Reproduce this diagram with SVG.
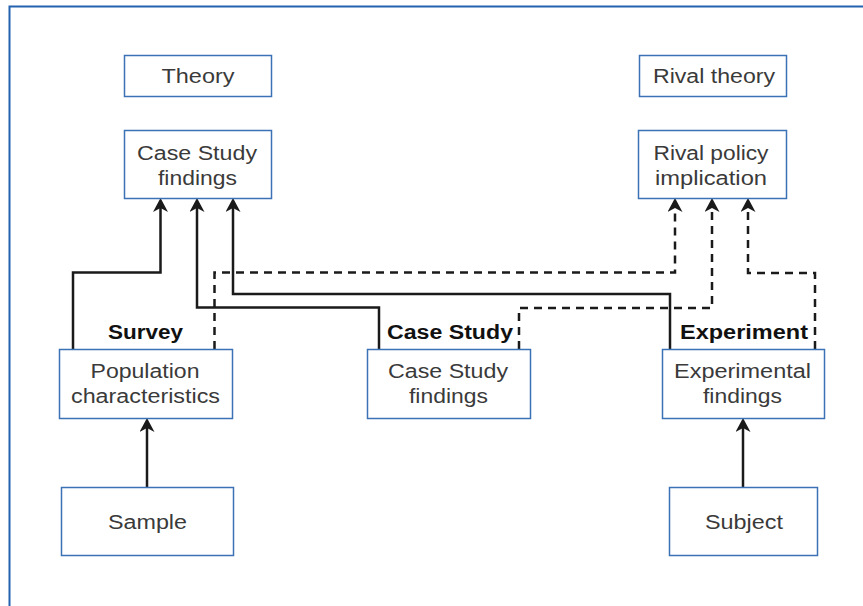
<svg xmlns="http://www.w3.org/2000/svg" width="863" height="606" viewBox="0 0 863 606">
<style>
.box{fill:#fff;stroke:#3a72b5;stroke-width:1.5}
.t{font-family:"Liberation Sans",Arial,sans-serif;font-size:20px;fill:#3a3a3a;text-anchor:middle}
.lb{font-family:"Liberation Sans",Arial,sans-serif;font-size:19.5px;font-weight:bold;fill:#111;text-anchor:middle}
.c{fill:none;stroke:#1a1a1a;stroke-width:2.5}
.d{stroke-dasharray:8 6}
</style>
<defs>
<marker id="ah" markerUnits="userSpaceOnUse" markerWidth="16" markerHeight="16" refX="4" refY="7.5" orient="auto" viewBox="0 0 16 16">
<path d="M14 7.5 L0 0 L4 7.5 L0 15 Z" fill="#1a1a1a"/>
</marker>
</defs>
<rect width="863" height="606" fill="#fff"/>
<path d="M9.5 606 V6.5 H863" fill="none" stroke="#2462b0" stroke-width="2"/>
<g id="connectors">
<path class="c" d="M147 487 V428" marker-end="url(#ah)"/>
<path class="c" d="M743 487 V428" marker-end="url(#ah)"/>
<path class="c" d="M73 349 V272.5 H160.5 V208" marker-end="url(#ah)"/>
<path class="c" d="M379 349 V307.5 H197 V208" marker-end="url(#ah)"/>
<path class="c" d="M670 349 V294 H233 V208" marker-end="url(#ah)"/>
<path class="c d" d="M214.5 349 V272.5 H675 V208" marker-end="url(#ah)"/>
<path class="c d" d="M519 349 V308 H712 V208" marker-end="url(#ah)"/>
<path class="c d" d="M815 349 V273 H748 V208" marker-end="url(#ah)"/>
</g>
<g id="theory"><rect class="box" x="124.5" y="55.5" width="147" height="41"/><text class="t" x="198" y="83" textLength="73" lengthAdjust="spacingAndGlyphs">Theory</text></g>
<g id="rival-theory"><rect class="box" x="639.5" y="55.5" width="147" height="41"/><text class="t" x="714" y="83" textLength="122" lengthAdjust="spacingAndGlyphs">Rival theory</text></g>
<g id="case-study-top"><rect class="box" x="124.5" y="130.5" width="147" height="68"/><text class="t" x="197" y="159.5" textLength="120" lengthAdjust="spacingAndGlyphs">Case Study</text><text class="t" x="197.5" y="184.5" textLength="79" lengthAdjust="spacingAndGlyphs">findings</text></g>
<g id="rival-policy"><rect class="box" x="638.5" y="130.5" width="148" height="68"/><text class="t" x="711" y="159.5" textLength="115" lengthAdjust="spacingAndGlyphs">Rival policy</text><text class="t" x="711" y="184.5" textLength="112" lengthAdjust="spacingAndGlyphs">implication</text></g>
<g id="population"><rect class="box" x="59.5" y="349.5" width="173" height="69"/><text class="t" x="145" y="378" textLength="109" lengthAdjust="spacingAndGlyphs">Population</text><text class="t" x="145.5" y="403" textLength="149" lengthAdjust="spacingAndGlyphs">characteristics</text></g>
<g id="case-study-mid"><rect class="box" x="367.5" y="349.5" width="163" height="69"/><text class="t" x="448" y="378" textLength="120" lengthAdjust="spacingAndGlyphs">Case Study</text><text class="t" x="448.5" y="403" textLength="79" lengthAdjust="spacingAndGlyphs">findings</text></g>
<g id="experimental"><rect class="box" x="662.5" y="349.5" width="162" height="69"/><text class="t" x="742.5" y="378" textLength="137" lengthAdjust="spacingAndGlyphs">Experimental</text><text class="t" x="742.5" y="403" textLength="79" lengthAdjust="spacingAndGlyphs">findings</text></g>
<g id="sample"><rect class="box" x="61.5" y="487.5" width="172" height="68"/><text class="t" x="147.5" y="528.5" textLength="79" lengthAdjust="spacingAndGlyphs">Sample</text></g>
<g id="subject"><rect class="box" x="669.5" y="487.5" width="148" height="68"/><text class="t" x="744" y="528.5" textLength="78" lengthAdjust="spacingAndGlyphs">Subject</text></g>
<g id="labels">
<text class="lb" x="145.5" y="339" textLength="75" lengthAdjust="spacingAndGlyphs">Survey</text>
<text class="lb" x="450" y="339" textLength="126" lengthAdjust="spacingAndGlyphs">Case Study</text>
<text class="lb" x="744" y="339" textLength="128" lengthAdjust="spacingAndGlyphs">Experiment</text>
</g>
</svg>
